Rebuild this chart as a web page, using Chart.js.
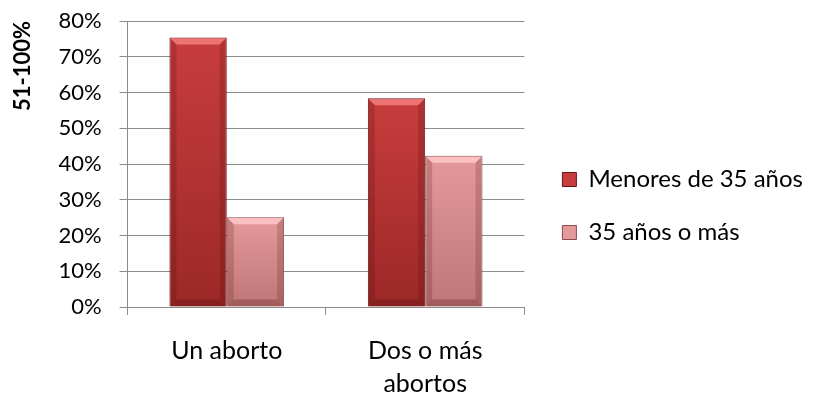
<!DOCTYPE html>
<html>
<head>
<meta charset="utf-8">
<script src="https://cdn.jsdelivr.net/npm/chart.js@4"></script>
<style>
  html, body { margin: 0; padding: 0; background: #fff; }
  #wrap { width: 815px; height: 394px; }
</style>
</head>
<body>
<div id="wrap"><canvas id="myChart"></canvas></div>
<script>
const categories = [['Un aborto'], ['Dos o más', 'abortos']];
const menores35 = [75.4, 58.4];
const mayores35 = [25.1, 42.3];
const yTicks = [0, 10, 20, 30, 40, 50, 60, 70, 80];

// top / bottom face colours and bevel tints for each series
const faces = [
    { top: '#c83d3d', bottom: '#9c2828', edge: '#6a1414', bevel: 'rgba(245,125,125,0.85)' },
    { top: '#e49a9a', bottom: '#bf7676', edge: '#8a4c4c', bevel: 'rgba(255,200,200,0.85)' }
];

const bevelPlugin = {
    id: 'bevel',
    beforeDatasetsDraw(chart) {
        const ctx = chart.ctx;
        chart.data.datasets.forEach((ds, di) => {
            chart.getDatasetMeta(di).data.forEach(el => {
                const g = ctx.createLinearGradient(0, el.y, 0, el.base);
                g.addColorStop(0, faces[di].top);
                g.addColorStop(1, faces[di].bottom);
                el.options.backgroundColor = g;
            });
        });
    },
    afterDatasetsDraw(chart) {
        const ctx = chart.ctx;
        chart.data.datasets.forEach((ds, di) => {
            chart.getDatasetMeta(di).data.forEach(el => {
                const l = el.x - el.width / 2, r = el.x + el.width / 2;
                const t = el.y, b = el.base, d = 7;
                ctx.save();
                ctx.fillStyle = faces[di].bevel;
                ctx.beginPath();
                ctx.moveTo(l + 1, t + 1); ctx.lineTo(r - 1, t + 1); ctx.lineTo(r - d, t + d); ctx.lineTo(l + d, t + d);
                ctx.closePath(); ctx.fill();
                ctx.fillStyle = 'rgba(70,0,0,0.18)';
                ctx.beginPath();
                ctx.moveTo(r - 1, t + 1); ctx.lineTo(r - 1, b); ctx.lineTo(r - d, b - d); ctx.lineTo(r - d, t + d);
                ctx.closePath(); ctx.fill();
                ctx.beginPath();
                ctx.moveTo(l + 1, t + 1); ctx.lineTo(l + 1, b); ctx.lineTo(l + d, b - d); ctx.lineTo(l + d, t + d);
                ctx.closePath(); ctx.fill();
                ctx.fillStyle = 'rgba(60,0,0,0.22)';
                ctx.beginPath();
                ctx.moveTo(l + 1, b); ctx.lineTo(r - 1, b); ctx.lineTo(r - d, b - d); ctx.lineTo(l + d, b - d);
                ctx.closePath(); ctx.fill();
                ctx.restore();
            });
        });
    }
};

function draw() {
    const ctx = document.getElementById('myChart').getContext('2d');
    new Chart(ctx, {
        type: 'bar',
        data: {
            labels: categories,
            datasets: [{
                label: 'Menores de 35 años',
                data: menores35,
                backgroundColor: () => faces[0].top,
                borderColor: faces[0].edge,
                borderWidth: 1,
                categoryPercentage: 0.578,
                barPercentage: 1
            }, {
                label: '35 años o más',
                data: mayores35,
                backgroundColor: () => faces[1].top,
                borderColor: faces[1].edge,
                borderWidth: 1,
                categoryPercentage: 0.578,
                barPercentage: 1
            }]
        },
        plugins: [bevelPlugin],
        options: {
            responsive: true,
            maintainAspectRatio: false,
            animation: false,
            layout: { padding: { top: 18, right: 2, left: 5, bottom: 0 } },
            plugins: {
                tooltip: { enabled: false },
                legend: {
                    position: 'right',
                    align: 'center',
                    maxWidth: 320,
                    labels: {
                        color: '#000',
                        font: { family: 'Lato', size: 24 },
                        boxWidth: 14,
                        boxHeight: 14,
                        padding: 29,
                        generateLabels(chart) {
                            return chart.data.datasets.map((ds, i) => ({
                                text: ds.label,
                                fillStyle: faces[i].top,
                                strokeStyle: faces[i].edge,
                                lineWidth: 1,
                                datasetIndex: i
                            }));
                        }
                    }
                }
            },
            scales: {
                y: {
                    min: 0,
                    max: 80,
                    afterBuildTicks(axis) {
                        axis.ticks = yTicks.map(v => ({ value: v }));
                    },
                    ticks: {
                        color: '#000',
                        font: { family: 'Lato', size: 22 },
                        padding: 18,
                        callback: v => v + '%'
                    },
                    grid: {
                        color: '#8c8c8c',
                        lineWidth: 1,
                        tickLength: 8
                    },
                    border: { color: '#8c8c8c' },
                    title: {
                        display: true,
                        text: '51-100%',
                        align: 'end',
                        color: '#000',
                        font: { family: 'Lato', size: 22, weight: 'bold' },
                        padding: { top: 5, bottom: 4 }
                    },
                    afterFit(s) {
                        s.paddingTop = 21;
                        s.paddingBottom = 0;
                    }
                },
                // empty spacer axis: leaves the gap between plot and legend
                gap: {
                    position: 'right',
                    display: true,
                    grid: { display: false },
                    border: { display: false },
                    ticks: { display: false },
                    afterFit(s) { s.width = 9; }
                },
                x: {
                    ticks: {
                        color: '#000',
                        font: { family: 'Lato', size: 25, lineHeight: 1.3 },
                        padding: 20
                    },
                    grid: {
                        display: true,
                        drawOnChartArea: false,
                        offset: true,
                        color: '#8c8c8c',
                        tickLength: 8
                    },
                    border: { color: '#8c8c8c' },
                    afterFit(s) { s.height = 87; }
                }
            }
        }
    });
}

Promise.all([
    document.fonts.load('25px Lato'),
    document.fonts.load('bold 22px Lato')
]).then(draw, draw);
</script>
</body>
</html>
